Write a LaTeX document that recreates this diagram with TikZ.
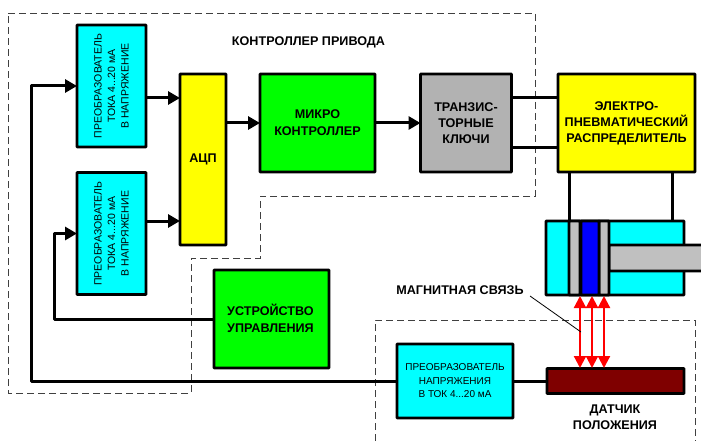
\documentclass[tikz,border=0pt]{standalone}
\usepackage{fontspec}
\setmainfont{Liberation Sans}
\usetikzlibrary{arrows.meta}
\definecolor{aquaBox}{HTML}{00FFFF}
\definecolor{limeBox}{HTML}{00FF00}
\definecolor{yellowBox}{HTML}{FFFF00}
\definecolor{grayBox}{HTML}{B2B2B2}
\definecolor{pistonGray}{HTML}{C0C0C0}
\definecolor{sensorRed}{HTML}{7F0000}
\tikzset{
	blockbox/.style={draw=black, line width=2.8pt, rounded corners=0.6pt, inner sep=0pt, outer sep=0pt, align=center},
	boldtext/.style={font=\bfseries\fontsize{12.6}{16.5}\selectfont, align=center, inner sep=0pt},
	thintext/.style={font=\fontsize{10.5}{13.5}\selectfont, align=center, inner sep=0pt},
	conn/.style={line width=3pt, line join=round},
	arrowconn/.style={conn, -{Triangle[length=12pt,width=13pt]}},
	magnet/.style={red, line width=2.2pt, {Triangle[length=12pt,width=12pt]}-{Triangle[length=12pt,width=12pt]}},
	zone/.style={black!75, line width=0.9pt, dash pattern=on 7pt off 4pt},
}
\begin{document}
\begin{tikzpicture}[x=1pt,y=-1pt]
	
	\useasboundingbox (0,0) rectangle (701,441);
	
	% Dashed zones
	\draw[zone] (8,13) -- (535,13) -- (535,196) -- (260,196) -- (260,258) -- (191,258) -- (191,393) -- (8,393) -- cycle;
	\draw[zone] (375,441) -- (375,320) -- (695,320) -- (695,441);
	
	% Blocks
	\node[blockbox, fill=aquaBox, minimum width=69pt, minimum height=122pt] (convA) at (111.5,86) {};
	\node[thintext, rotate=90] at (convA) {ПРЕОБРАЗОВАТЕЛЬ\\ТОКА 4...20 мА\\В НАПРЯЖЕНИЕ};
	\node[blockbox, fill=aquaBox, minimum width=69pt, minimum height=122pt] (convB) at (111.5,233.5) {};
	\node[thintext, rotate=90] at (convB) {ПРЕОБРАЗОВАТЕЛЬ\\ТОКА 4...20 мА\\В НАПРЯЖЕНИЕ};
	\node[blockbox, fill=yellowBox, minimum width=46pt, minimum height=171pt, font=\bfseries\fontsize{12.6}{16.5}\selectfont] (adc) at (203,159.5) {АЦП};
	\node[blockbox, fill=limeBox, minimum width=115pt, minimum height=98pt, font=\bfseries\fontsize{12.6}{17}\selectfont] (micro) at (317.5,123) {МИКРО\\КОНТРОЛЛЕР};
	\node[blockbox, fill=grayBox, minimum width=91pt, minimum height=98pt, font=\bfseries\fontsize{12.6}{16}\selectfont] (keys) at (466,123) {ТРАНЗИС-\\ТОРНЫЕ\\КЛЮЧИ};
	\node[blockbox, fill=yellowBox, minimum width=137pt, minimum height=98pt, font=\bfseries\fontsize{12.6}{16}\selectfont] (distrib) at (626.5,123) {ЭЛЕКТРО-\\ПНЕВМАТИЧЕСКИЙ\\РАСПРЕДЕЛИТЕЛЬ};
	\node[blockbox, fill=limeBox, minimum width=115pt, minimum height=98pt] (control) at (271.5,319) {};
	\node[boldtext, align=left] at (270.5,318.5) {УСТРОЙСТВО\\УПРАВЛЕНИЯ};
	\node[blockbox, fill=aquaBox, minimum width=116pt, minimum height=74pt, font=\fontsize{10}{13.5}\selectfont] (convC) at (455,381) {ПРЕОБРАЗОВАТЕЛЬ\\НАПРЯЖЕНИЯ\\В ТОК 4...20 мА};
	\node[blockbox, fill=sensorRed, minimum width=137pt, minimum height=25pt] (sensor) at (615.5,381) {};
	
	% Cylinder and piston
	\node[blockbox, fill=aquaBox, minimum width=138pt, minimum height=74pt] (cylinder) at (615,258) {};
	\node[blockbox, fill=pistonGray, minimum width=102pt, minimum height=26pt] (rod) at (660,258) {};
	\node[blockbox, fill=pistonGray, minimum width=11pt, minimum height=74pt] (sealA) at (574.5,258) {};
	\node[blockbox, fill=pistonGray, minimum width=10pt, minimum height=74pt] (sealB) at (604,258) {};
	\node[blockbox, fill=blue, minimum width=18pt, minimum height=74pt] (piston) at (590,258) {};
	
	% Arrow points
	\coordinate (adcA) at (180,98);
	\coordinate (adcB) at (180,221);
	\coordinate (keysA) at (512,98);
	\coordinate (keysB) at (512,147);
	\coordinate (pipeA) at (569,172);
	\coordinate (pipeB) at (672,172);
	\coordinate (busA) at (31,381);
	\coordinate (busB) at (54,319);
	
	% Signal lines
	\draw[arrowconn] (busA -| convC.west) -- (busA) -- (busA |- convA.west) -- (convA.west);
	\draw[arrowconn] (control.west) -- (busB) -- (busB |- convB.west) -- (convB.west);
	\draw[arrowconn] (convA.east |- adcA) -- (adcA);
	\draw[arrowconn] (convB.east |- adcB) -- (adcB);
	\draw[arrowconn] (adc.east |- micro.west) -- (micro.west);
	\draw[arrowconn] (micro.east) -- (keys.west);
	\draw[conn] (keysA) -- (keysA -| distrib.west);
	\draw[conn] (keysB) -- (keysB -| distrib.west);
	\draw[conn] (pipeA) -- (pipeA |- cylinder.north);
	\draw[conn] (pipeB) -- (pipeB |- cylinder.north);
	\draw[conn] (convC.east) -- (sensor.west);
	
	% Magnetic coupling
	\foreach \xpos in {580,592,604}
		\draw[magnet] (\xpos,296) -- (\xpos,368);
	\coordinate (leaderEnd) at (581,332);
	\draw[line width=0.8pt] (530,296) -- (leaderEnd);
	
	% Labels
	\node[boldtext] (titleDrive) at (308.5,42) {КОНТРОЛЛЕР ПРИВОДА};
	\node[boldtext] (titleLink) at (460,290) {МАГНИТНАЯ СВЯЗЬ};
	\node[boldtext] (titleSensor) at (615,417) {ДАТЧИК\\ПОЛОЖЕНИЯ};
	
\end{tikzpicture}
\end{document}
